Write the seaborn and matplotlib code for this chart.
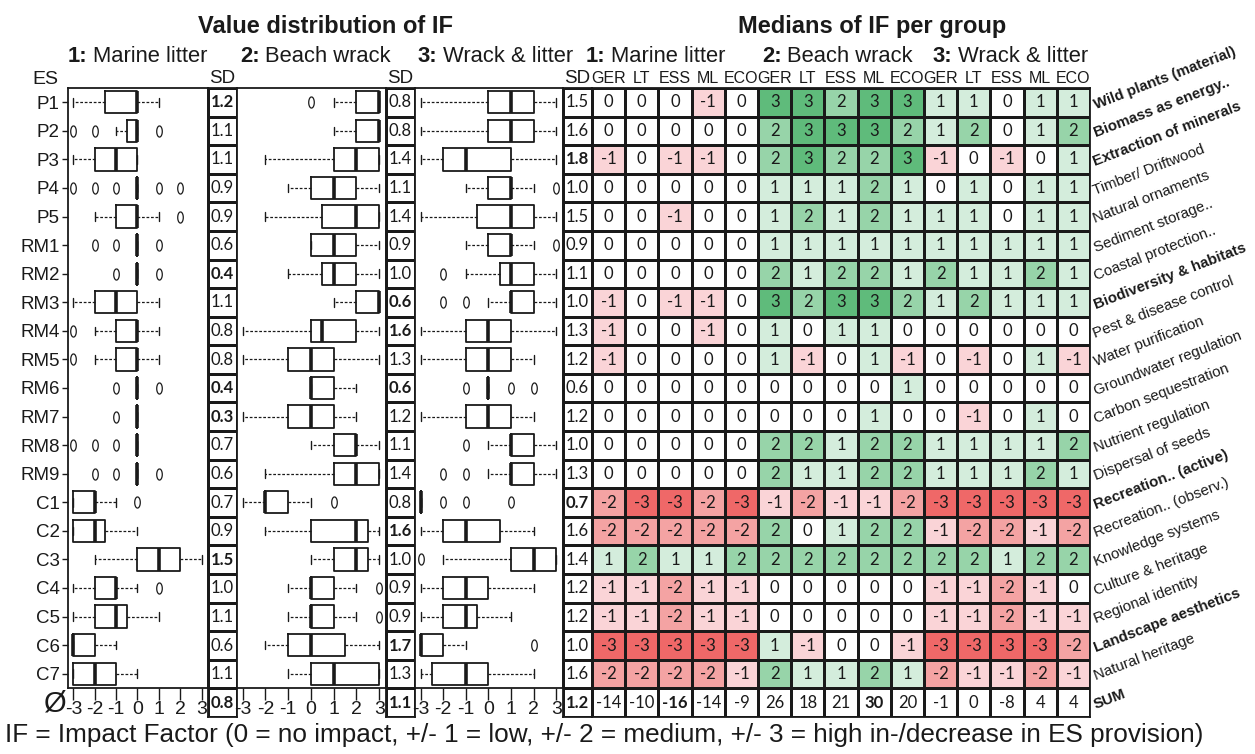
import numpy as np
import matplotlib
matplotlib.use("Agg")
import matplotlib.pyplot as plt
from matplotlib.colors import ListedColormap
from matplotlib.path import Path
import seaborn as sns

# ---------------- data ----------------
es_codes = ["P1", "P2", "P3", "P4", "P5", "RM1", "RM2", "RM3", "RM4", "RM5", "RM6",
            "RM7", "RM8", "RM9", "C1", "C2", "C3", "C4", "C5", "C6", "C7"]
es_names = ["Wild plants (material)", "Biomass as energy..", "Extraction of minerals",
            "Timber/ Driftwood", "Natural ornaments", "Sediment storage..",
            "Coastal protection..", "Biodiversity & habitats", "Pest & disease control",
            "Water purification", "Groundwater regulation", "Carbon sequestration",
            "Nutrient regulation", "Dispersal of seeds", "Recreation.. (active)",
            "Recreation.. (observ.)", "Knowledge systems", "Culture & heritage",
            "Regional identity", "Landscape aesthetics", "Natural heritage", "SUM"]
es_names_bold = [0, 1, 2, 7, 14, 19, 21]
groups = ["Marine litter", "Beach wrack", "Wrack & litter"]
sub_cols = ["GER", "LT", "ESS", "ML", "ECO"]
x_ticks = [-3, -2, -1, 0, 1, 2, 3]

# box statistics, group 1: marine litter
ml_q1 = [-1.5, -0.5, -2, 0, -1, 0, 0, -2, -1, -1, 0, 0, 0, 0, -3, -3, 0, -2, -2, -3, -3]
ml_med = [0, 0, -1, 0, 0, 0, 0, -1, 0, 0, 0, 0, 0, 0, -2, -2, 1, -1, -1, -3, -2]
ml_q3 = [0, 0, 0, 0, 0, 0, 0, 0, 0, 0, 0, 0, 0, 0, -2, -1.5, 2, -1, -0.5, -2, -1]
ml_lo = [-3, -1, -3, 0, -2, 0, 0, -3, -2, -2, 0, 0, 0, 0, -3, -3, -2, -3, -3, -3, -3]
ml_hi = [1, 0, 0, 0, 1, 0, 0, 1, 1, 1, 0, 0, 0, 0, -1, 0, 3, 0, 1, -1, 0]
ml_fl = [[], [-3, -2, 1], [], [-3, -2, -1, 1, 2], [2], [-2, -1, 1], [-1, 1], [], [-3], [-3],
         [-1, 1], [-1], [-3, -2, -1], [-2, -1, 1], [0], [], [], [1], [], [], []]

# group 2: beach wrack
bw_q1 = [2, 2, 1, 0, 0.5, 0, 0.5, 2, 0, -1, 0, -1, 1, 1, -2, 0, 1, 0, 0, -1, 0]
bw_med = [3, 3, 2, 1, 2, 1, 1, 3, 0.5, 0, 0, 0, 2, 2, -2, 2, 2, 0, 0, 0, 1]
bw_q3 = [3, 3, 3, 2, 3, 2, 2, 3, 2, 1, 1, 1, 2, 3, -1, 2.5, 2.5, 1, 1, 1.5, 3]
bw_lo = [1, 1, -2, -1, -2, 0, -1, 1, -3, -3, 0, -3, 0, -2, -3, -2, 0, -1, -1, -2, -1]
bw_hi = [3, 3, 3, 3, 3, 3, 3, 3, 3, 3, 2, 2, 3, 3, 0, 3, 3, 2, 2, 3, 3]
bw_fl = [[0], [], [], [], [], [], [], [], [], [], [], [], [], [], [1], [], [], [3], [3], [], []]

# group 3: wrack & litter
wl_q1 = [0, 0, -2, 0, -0.5, 0, 0.5, 1, -1, -1, 0, -1, 1, 1, -3, -2, 1, -2, -2, -3, -2.5]
wl_med = [1, 1, -1, 1, 1, 1, 1, 1, 0, 0, 0, 0, 1, 1, -3, -1, 2, -1, -1, -3, -1]
wl_q3 = [2, 2, 1, 1, 2, 1, 2, 2, 1, 1, 0, 1, 2, 2, -3, 0.5, 3, 0, -0.5, -2, 0]
wl_lo = [-3, -3, -3, -1, -3, -1, -1, 0, -3, -3, 0, -3, 0, 0, -3, -3, -2, -3, -3, -3, -3]
wl_hi = [3, 3, 3, 2, 3, 2, 3, 3, 3, 2, 0, 2, 3, 3, -3, 2, 3, 2, 1, -1, 2]
wl_fl = [[], [], [], [3], [], [3], [-2], [-2, -1], [], [], [-1, 1, 2], [], [-1], [-2, -1],
         [-2, -1, 1], [], [-3], [], [], [2], []]

# standard deviations (last value = mean row)
sd_ml = [1.2, 1.1, 1.1, 0.9, 0.9, 0.6, 0.4, 1.1, 0.8, 0.8, 0.4, 0.3, 0.7, 0.6, 0.7, 0.9,
         1.5, 1.0, 1.1, 0.6, 1.1, 0.8]
sd_bw = [0.8, 0.8, 1.4, 1.1, 1.4, 0.9, 1.0, 0.6, 1.6, 1.3, 0.6, 1.2, 1.1, 1.4, 0.8, 1.6,
         1.0, 0.9, 0.9, 1.7, 1.3, 1.1]
sd_wl = [1.5, 1.6, 1.8, 1.0, 1.5, 0.9, 1.1, 1.0, 1.3, 1.2, 0.6, 1.2, 1.0, 1.3, 0.7, 1.6,
         1.4, 1.2, 1.2, 1.0, 1.6, 1.2]
sd_ml_bold = [0, 6, 10, 11, 16, 21]
sd_bw_bold = [7, 8, 10, 15, 19, 21]
sd_wl_bold = [2, 14, 21]

# medians per stakeholder group (rows = ES, cols = GER, LT, ESS, ML, ECO)
med_ml = [[0, 0, 0, -1, 0], [0, 0, 0, 0, 0], [-1, 0, -1, -1, 0], [0, 0, 0, 0, 0],
          [0, 0, -1, 0, 0], [0, 0, 0, 0, 0], [0, 0, 0, 0, 0], [-1, 0, -1, -1, 0],
          [-1, 0, 0, -1, 0], [-1, 0, 0, 0, 0], [0, 0, 0, 0, 0], [0, 0, 0, 0, 0],
          [0, 0, 0, 0, 0], [0, 0, 0, 0, 0], [-2, -3, -3, -2, -3], [-2, -2, -2, -2, -2],
          [1, 2, 1, 1, 2], [-1, -1, -2, -1, -1], [-1, -1, -2, -1, -1],
          [-3, -3, -3, -3, -3], [-2, -2, -2, -2, -1]]
med_bw = [[3, 3, 2, 3, 3], [2, 3, 3, 3, 2], [2, 3, 2, 2, 3], [1, 1, 1, 2, 1],
          [1, 2, 1, 2, 1], [1, 1, 1, 1, 1], [2, 1, 2, 2, 1], [3, 2, 3, 3, 2],
          [1, 0, 1, 1, 0], [1, -1, 0, 1, -1], [0, 0, 0, 0, 1], [0, 0, 0, 1, 0],
          [2, 2, 1, 2, 2], [2, 1, 1, 2, 2], [-1, -2, -1, -1, -2], [2, 0, 1, 2, 2],
          [2, 2, 2, 2, 2], [0, 0, 0, 0, 0], [0, 0, 0, 0, 0], [1, -1, 0, 0, -1],
          [2, 1, 1, 2, 1]]
med_wl = [[1, 1, 0, 1, 1], [1, 2, 0, 1, 2], [-1, 0, -1, 0, 1], [0, 1, 0, 1, 1],
          [1, 1, 0, 1, 1], [1, 1, 1, 1, 1], [2, 1, 1, 2, 1], [1, 2, 1, 1, 1],
          [0, 0, 0, 0, 0], [0, -1, 0, 1, -1], [0, 0, 0, 0, 0], [0, -1, 0, 1, 0],
          [1, 1, 1, 1, 2], [1, 1, 1, 2, 1], [-3, -3, -3, -3, -3], [-1, -2, -2, -1, -2],
          [2, 2, 1, 2, 2], [-1, -1, -2, -1, 0], [-1, -1, -2, -1, -1],
          [-3, -3, -3, -3, -2], [-2, -1, -1, -2, -1]]
sum_ml = [-14, -10, -16, -14, -9]
sum_bw = [26, 18, 21, 30, 20]
sum_wl = [-1, 0, -8, 4, 4]
sum_bold = [2, 8]

heat_colors = ["#ef6868", "#f4a3a3", "#fad4d7", "#ffffff", "#d4eddc", "#97d4a9", "#5fbb7b"]

# ---------------- style ----------------
sns.set_theme(style="white")
plt.rcParams["font.family"] = ["Liberation Sans", "DejaVu Sans"]
NUM_FONT = ["Lato", "DejaVu Sans"]
NARROW = ["Liberation Sans Narrow", "Liberation Sans", "DejaVu Sans"]
TXT = "#1a1a1a"

W, H = 1255, 754
fig = plt.figure(figsize=(W / 100, H / 100), dpi=100)
fig.patch.set_facecolor("white")


def add_ax(x, y, w, h):
    return fig.add_axes([x / W, 1 - (y + h) / H, w / W, h / H])


TOP = 88
ROW = 600 / 21

theta = np.linspace(0, 2 * np.pi, 60)
oval = Path(np.column_stack([0.5 * np.sin(theta), np.cos(theta)]))


def box_panel(ax, q1, med, q3, lo, hi, fl, show_y):
    stats = []
    for i in range(len(q1)):
        stats.append(dict(q1=q1[i], med=med[i], q3=q3[i], whislo=lo[i], whishi=hi[i],
                          fliers=np.array(fl[i], dtype=float)))
    kw = dict(positions=list(range(len(stats))), widths=0.78, showfliers=True,
              manage_ticks=False,
              boxprops=dict(color=TXT, linewidth=1.3),
              medianprops=dict(color=TXT, linewidth=2.6, solid_capstyle="butt"),
              whiskerprops=dict(color=TXT, linewidth=0.9, linestyle=(0, (2.2, 1.4))),
              capprops=dict(color=TXT, linewidth=1.0),
              flierprops=dict(marker=oval, markersize=8, markerfacecolor="none",
                              markeredgecolor=TXT, markeredgewidth=0.9, linestyle="none"))
    try:
        ax.bxp(stats, orientation="horizontal", capwidths=0.3, **kw)
    except TypeError:
        ax.bxp(stats, vert=False, **kw)
    ax.set_xlim(-3.25, 3.3)
    ax.set_ylim(len(stats) - 0.5, -0.5)
    ax.set_xticks(x_ticks)
    ax.set_xticklabels([str(v) for v in x_ticks], family=NARROW, fontsize=14, color=TXT)
    ax.tick_params(axis="x", bottom=True, direction="out", length=8.5, width=1,
                   pad=1, colors=TXT)
    if show_y:
        ax.set_yticks(list(range(len(stats))))
        ax.set_yticklabels(es_codes, fontsize=13.5, color=TXT)
        ax.tick_params(axis="y", left=True, direction="out", length=4, width=1, pad=2,
                       colors=TXT)
    else:
        ax.set_yticks([])
    ax.set_facecolor("white")
    for s in ax.spines.values():
        s.set_visible(True)
        s.set_color(TXT)
        s.set_linewidth(1.3)
    ax.grid(False)


def sd_panel(ax, vals, bold):
    arr = np.array(vals).reshape(-1, 1)
    annot = np.array([f"{v:.1f}" for v in vals]).reshape(-1, 1)
    sns.heatmap(arr, ax=ax, cmap=ListedColormap(["white"]), annot=annot, fmt="",
                cbar=False, linewidths=0.9, linecolor=TXT, xticklabels=["SD"],
                yticklabels=False,
                annot_kws=dict(fontsize=12, family=NUM_FONT, color=TXT))
    for i, t in enumerate(ax.texts):
        if i in bold:
            t.set_fontweight("bold")
    ax.xaxis.tick_top()
    ax.tick_params(axis="x", length=0, pad=1, labelsize=13.5, colors=TXT)
    for lab in ax.get_xticklabels():
        lab.set_rotation(0)
    for s in ax.spines.values():
        s.set_visible(True)
        s.set_color(TXT)
        s.set_linewidth(1.3)


bx1 = add_ax(68, TOP, 140, 600)
sd1 = add_ax(208, TOP, 29, 629)
bx2 = add_ax(237, TOP, 149, 600)
sd2 = add_ax(386, TOP, 29, 629)
bx3 = add_ax(415, TOP, 148, 600)
sd3 = add_ax(563, TOP, 29, 629)
hm = add_ax(592, TOP, 498, 629)

box_panel(bx1, ml_q1, ml_med, ml_q3, ml_lo, ml_hi, ml_fl, True)
box_panel(bx2, bw_q1, bw_med, bw_q3, bw_lo, bw_hi, bw_fl, False)
box_panel(bx3, wl_q1, wl_med, wl_q3, wl_lo, wl_hi, wl_fl, False)
sd_panel(sd1, sd_ml, sd_ml_bold)
sd_panel(sd2, sd_bw, sd_bw_bold)
sd_panel(sd3, sd_wl, sd_wl_bold)

# heatmap of medians
med_all = np.hstack([np.array(med_ml), np.array(med_bw), np.array(med_wl)])
sums_all = np.array(sum_ml + sum_bw + sum_wl)
color_vals = np.vstack([med_all, np.zeros((1, med_all.shape[1]))])
annot = np.vstack([med_all.astype(int).astype(str), sums_all.astype(str)[None, :]])
sns.heatmap(color_vals, ax=hm, cmap=ListedColormap(heat_colors), vmin=-3.5, vmax=3.5,
            annot=annot, fmt="", cbar=False, linewidths=0.9, linecolor=TXT,
            xticklabels=sub_cols * 3, yticklabels=False,
            annot_kws=dict(fontsize=12, family=NUM_FONT, color=TXT))
n_rows, n_cols = annot.shape
for k, t in enumerate(hm.texts):
    r, c = divmod(k, n_cols)
    if r == n_rows - 1 and c in sum_bold:
        t.set_fontweight("bold")
hm.xaxis.tick_top()
hm.tick_params(axis="x", length=0, pad=1.5, colors=TXT)
for lab in hm.get_xticklabels():
    lab.set_rotation(0)
    lab.set_fontsize(11.5)
    lab.set_family(NARROW)
for s in hm.spines.values():
    s.set_visible(True)
    s.set_color(TXT)
    s.set_linewidth(1.3)

# ---------------- texts ----------------
def ftext(x, y, s, **kw):
    kw.setdefault("color", TXT)
    return fig.text(x / W, 1 - y / H, s, **kw)


ftext(326, 33, "Value distribution of IF", fontsize=17, weight="bold", ha="center",
      va="baseline")
ftext(872, 33, "Medians of IF per group", fontsize=17, weight="bold", ha="center",
      va="baseline")

renderer = fig.canvas.get_renderer()


def mixed(x, y, num, name, size=15.8):
    t1 = ftext(x, y, f"{num}:", fontsize=size, weight="bold", ha="left", va="baseline")
    bb = t1.get_window_extent(renderer)
    ftext(bb.x1 + 5, y, name, fontsize=size, ha="left", va="baseline")


starts_box = [68, 240, 418]
starts_hm = [586, 762, 933]
for i, g in enumerate(groups):
    mixed(starts_box[i], 62, i + 1, g)
    mixed(starts_hm[i], 62, i + 1, g)

ftext(45, 80, "ES", fontsize=14, ha="center", va="center")
ftext(55, 704, "Ø", fontsize=21, ha="center", va="center")

for i, name in enumerate(es_names):
    y = TOP + (i + 0.5) * ROW + 3
    ftext(1094, y, name, fontsize=10.8, rotation=21, rotation_mode="anchor",
          ha="left", va="center", weight="bold" if i in es_names_bold else "normal")

ftext(5, 742, "IF = Impact Factor (0 = no impact, +/- 1 = low, +/- 2 = medium, "
      "+/- 3 = high in-/decrease in ES provision)", fontsize=18.8, ha="left",
      va="baseline")

fig.savefig("out.png", dpi=100, facecolor="white")
